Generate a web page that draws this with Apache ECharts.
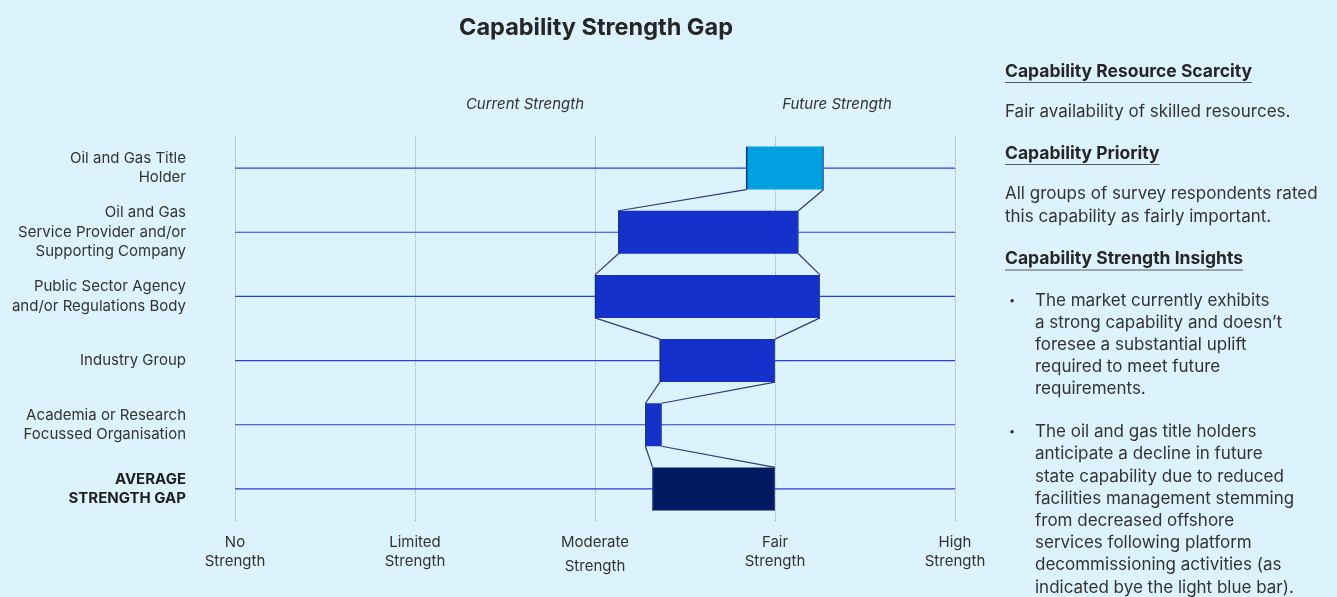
<!DOCTYPE html>
<html>
<head>
<meta charset="utf-8">
<script src="https://cdn.jsdelivr.net/npm/echarts@6/dist/echarts.min.js"></script>
<style>
  html, body { margin: 0; padding: 0; background: #dcf2fd; }
  #chart { width: 1337px; height: 597px; }
</style>
</head>
<body>
<div id="chart"></div>
<script>
// Respondent groups (top to bottom)
const groups = [
  'Oil and Gas Title\nHolder',
  'Oil and Gas\nService Provider and/or\nSupporting Company',
  'Public Sector Agency\nand/or Regulations Body',
  'Industry Group',
  'Academia or Research\nFocussed Organisation',
  'AVERAGE\nSTRENGTH GAP'
];
// Strength scores on a 0 (No Strength) .. 4 (High Strength) scale
const currentStrength = [3.27, 2.13, 2.00, 2.36, 2.28, 2.32];
const futureStrength  = [2.84, 3.13, 3.25, 3.00, 2.37, 3.00];
// Tick labels of the strength scale
const strengthLevels = ['No\nStrength', 'Limited\nStrength', 'Moderate\nStrength', 'Fair\nStrength', 'High\nStrength'];

const FONT = 'Inter';
const TEXT = '#333333';
const HEAD = '#262626';

const rows = groups.map((g, i) => [currentStrength[i], futureStrength[i], i]);
const lastIdx = groups.length - 1;

function barColor(i) {
  if (i === lastIdx) return '#001a61';
  return futureStrength[i] < currentStrength[i] ? '#00a0e1' : '#1531cc';
}

// measure text for heading underlines
const measureCtx = document.createElement('canvas').getContext('2d');
function textWidth(txt, font) { measureCtx.font = font; return measureCtx.measureText(txt).width; }

const chart = echarts.init(document.getElementById('chart'), null, { renderer: 'canvas' });

const headFont = 'bold 17.5px ' + FONT;
const headings = [
  { text: 'Capability Resource Scarcity', y: 71.5 },
  { text: 'Capability Priority', y: 153.5 },
  { text: 'Capability Strength Insights', y: 259 }
];
const panelX = 1005;

const graphics = [];
headings.forEach(h => {
  graphics.push({
    type: 'text', x: panelX, y: h.y,
    style: { text: h.text, font: headFont, fill: HEAD, textVerticalAlign: 'middle' }
  });
  graphics.push({
    type: 'line',
    shape: { x1: panelX, y1: h.y + 11, x2: panelX + textWidth(h.text, headFont), y2: h.y + 11 },
    style: { stroke: '#5a5a5a', lineWidth: 1 }
  });
});
const bodyFont = '17px ' + FONT;
graphics.push({
  type: 'text', left: panelX, top: 112 - 11,
  style: { text: 'Fair availability of skilled resources.', font: bodyFont, fill: TEXT, lineHeight: 22 }
});
graphics.push({
  type: 'text', left: panelX, top: 194 - 11.5,
  style: { text: 'All groups of survey respondents rated\nthis capability as fairly important.', font: bodyFont, fill: TEXT, lineHeight: 23 }
});
const bullets = [
  { y: 300.5, text: 'The market currently exhibits\na strong capability and doesn\u2019t\nforesee a substantial uplift\nrequired to meet future\nrequirements.' },
  { y: 432, text: 'The oil and gas title holders\nanticipate a decline in future\nstate capability due to reduced\nfacilities management stemming\nfrom decreased offshore\nservices following platform\ndecommissioning activities (as\nindicated bye the light blue bar).' }
];
bullets.forEach(b => {
  graphics.push({
    type: 'text', left: 1009, top: b.y - 11,
    style: { text: '\u2022', font: '11px ' + FONT, fill: TEXT, lineHeight: 22 }
  });
  graphics.push({
    type: 'text', left: 1035, top: b.y - 11.1,
    style: { text: b.text, font: bodyFont, fill: TEXT, lineHeight: 22.2 }
  });
});
// column captions
graphics.push({
  type: 'text', x: 525, y: 104,
  style: { text: 'Current Strength', font: 'italic 15px ' + FONT, fill: TEXT, textAlign: 'center', textVerticalAlign: 'middle' }
});
graphics.push({
  type: 'text', x: 837, y: 104,
  style: { text: 'Future Strength', font: 'italic 15px ' + FONT, fill: TEXT, textAlign: 'center', textVerticalAlign: 'middle' }
});
// chart title
graphics.push({
  type: 'text', x: 596, y: 27.5,
  style: { text: 'Capability Strength Gap', font: 'bold 23.5px ' + FONT, fill: HEAD, textAlign: 'center', textVerticalAlign: 'middle' }
});

const option = {
  backgroundColor: '#dcf2fd',
  animation: false,
  textStyle: { fontFamily: FONT },
  grid: { left: 235, right: 382, top: 136, height: 385 },
  xAxis: {
    type: 'value', min: 0, max: 4, interval: 1,
    axisLine: { show: false }, axisTick: { show: false },
    splitLine: { show: true, lineStyle: { type: 'dotted', color: '#a0a8b0', width: 1 } },
    axisLabel: {
      margin: 12,
      formatter: v => {
        const parts = strengthLevels[v].split('\n');
        return v === 2 ? '{a|' + parts[0] + '}\n{m|' + parts[1] + '}' : '{a|' + parts[0] + '}\n{a|' + parts[1] + '}';
      },
      rich: {
        a: { fontFamily: FONT, fontSize: 15, color: TEXT, lineHeight: 19, align: 'center' },
        m: { fontFamily: FONT, fontSize: 15, color: TEXT, lineHeight: 29, align: 'center' }
      }
    }
  },
  yAxis: {
    type: 'category', data: groups, inverse: true,
    axisLine: { show: false }, axisTick: { show: false }, splitLine: { show: false },
    axisLabel: {
      margin: 49, align: 'right',
      formatter: (v, i) => i === lastIdx
        ? v.split('\n').map(s => '{b|' + s + '}').join('\n')
        : v.split('\n').map(s => '{n|' + s + '}').join('\n'),
      rich: {
        n: { fontFamily: FONT, fontSize: 15, color: TEXT, lineHeight: 19.5, align: 'right' },
        b: { fontFamily: FONT, fontSize: 15, fontWeight: 'bold', color: '#1f1f1f', lineHeight: 19.5, align: 'right' }
      }
    }
  },
  series: [
    {
      // row guide lines across the full scale
      type: 'custom', z: 1, silent: true,
      data: rows,
      encode: { x: [0, 1], y: 2 },
      renderItem: (params, api) => {
        const i = api.value(2);
        const a = api.coord([0, i]);
        const b = api.coord([4, i]);
        return {
          type: 'line',
          shape: { x1: a[0], y1: a[1], x2: b[0], y2: b[1] },
          style: { stroke: '#2443d6', lineWidth: 1.2 }
        };
      }
    },
    {
      // gap bars with connectors to the next row
      type: 'custom', z: 2, silent: true,
      data: rows,
      encode: { x: [0, 1], y: 2 },
      renderItem: (params, api) => {
        const i = api.value(2);
        const h = api.size([0, 1])[1] * 0.67;
        const lo = Math.min(api.value(0), api.value(1));
        const hi = Math.max(api.value(0), api.value(1));
        const p0 = api.coord([lo, i]);
        const p1 = api.coord([hi, i]);
        const top = p0[1] - h / 2, bottom = p0[1] + h / 2;
        const edge = { stroke: '#15307f', lineWidth: 1.5 };
        const children = [
          { type: 'rect', shape: { x: p0[0], y: top, width: p1[0] - p0[0], height: h }, style: { fill: barColor(i) } },
          { type: 'line', shape: { x1: p0[0] + 0.5, y1: top, x2: p0[0] + 0.5, y2: bottom }, style: edge },
          { type: 'line', shape: { x1: p1[0] - 0.5, y1: top, x2: p1[0] - 0.5, y2: bottom }, style: { stroke: '#2a4a90', lineWidth: 1 } }
        ];
        if (i < lastIdx) {
          const lo2 = Math.min(currentStrength[i + 1], futureStrength[i + 1]);
          const hi2 = Math.max(currentStrength[i + 1], futureStrength[i + 1]);
          const q0 = api.coord([lo2, i + 1]);
          const q1 = api.coord([hi2, i + 1]);
          const conn = { stroke: '#2a3a7a', lineWidth: 1.2 };
          children.push({ type: 'line', shape: { x1: p0[0], y1: bottom, x2: q0[0], y2: q0[1] - h / 2 }, style: conn });
          children.push({ type: 'line', shape: { x1: p1[0], y1: bottom, x2: q1[0], y2: q1[1] - h / 2 }, style: conn });
        }
        return { type: 'group', children };
      }
    }
  ],
  graphic: graphics
};

chart.setOption(option);
</script>
</body>
</html>
